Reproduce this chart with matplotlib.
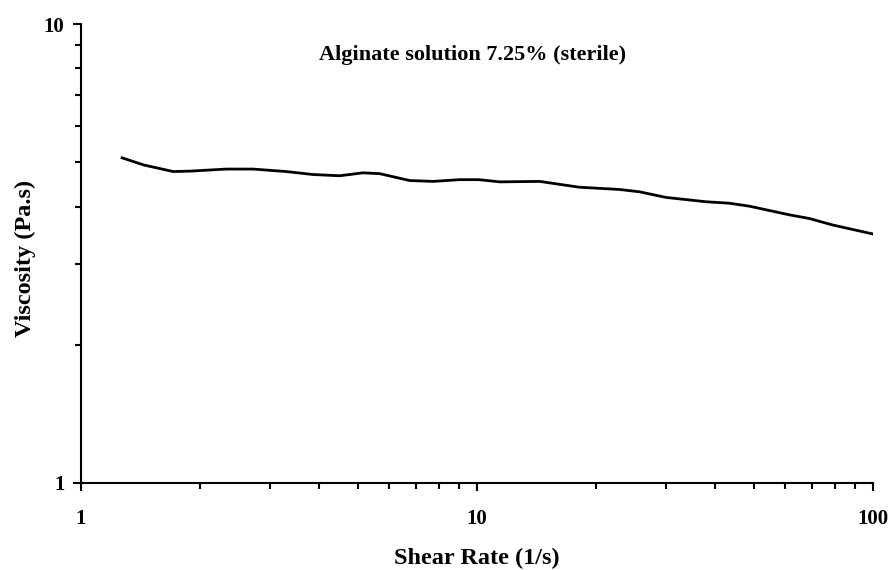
import matplotlib
matplotlib.use("Agg")
import matplotlib.pyplot as plt
from matplotlib.ticker import LogLocator, NullFormatter, FuncFormatter

# Shear rate (1/s) and viscosity (Pa.s) for the sterile alginate solution
shear_rate = [1.27, 1.44, 1.71, 1.88, 2.33, 2.72, 3.30, 3.85, 4.50, 5.15,
              5.68, 6.76, 7.74, 9.03, 10.1, 11.4, 14.4, 18.1, 22.9, 25.7,
              30.0, 37.8, 43.3, 48.7, 61.4, 69.0, 78.9, 99.6]
viscosity = [5.11, 4.93, 4.77, 4.78, 4.83, 4.83, 4.77, 4.70, 4.67, 4.74,
             4.72, 4.56, 4.54, 4.58, 4.58, 4.53, 4.54, 4.41, 4.36, 4.31,
             4.19, 4.10, 4.07, 4.01, 3.84, 3.77, 3.65, 3.49]

plt.rcParams['font.family'] = ['Liberation Serif', 'DejaVu Serif']
plt.rcParams['font.weight'] = 'bold'

fig = plt.figure(figsize=(8.93, 5.70), dpi=100)
ax = fig.add_axes([81 / 893, 1 - 483 / 570, 792 / 893, 459 / 570])

ax.plot(shear_rate, viscosity, color='black', linewidth=2.0)

ax.set_xscale('log')
ax.set_yscale('log')
ax.set_xlim(1, 100)
ax.set_ylim(1, 10)

fmt = FuncFormatter(lambda v, pos: f'{v:g}')
for axis in (ax.xaxis, ax.yaxis):
    axis.set_major_locator(LogLocator(base=10))
    axis.set_minor_locator(LogLocator(base=10, subs=range(2, 10)))
    axis.set_major_formatter(fmt)
    axis.set_minor_formatter(NullFormatter())

for side in ('top', 'right'):
    ax.spines[side].set_visible(False)
for side in ('left', 'bottom'):
    ax.spines[side].set_linewidth(1.5)

ax.tick_params(which='major', direction='out', length=6, width=1.5, labelsize=15)
ax.tick_params(which='minor', direction='out', length=4, width=1.5)
ax.tick_params(axis='x', which='major', pad=13)
ax.tick_params(axis='y', which='major', pad=6)

ax.set_xlabel('Shear Rate (1/s)', fontsize=17.5, fontweight='bold')
ax.xaxis.set_label_coords(0.5, -0.142)
ax.set_ylabel('Viscosity (Pa.s)', fontsize=17.5, fontweight='bold')
ax.yaxis.set_label_coords(-0.057, 0.49)

ax.text(0.495, 0.932, 'Alginate solution 7.25% (sterile)', transform=ax.transAxes,
        ha='center', va='center', fontsize=16, fontweight='bold')

fig.savefig('out.png', dpi=100)
